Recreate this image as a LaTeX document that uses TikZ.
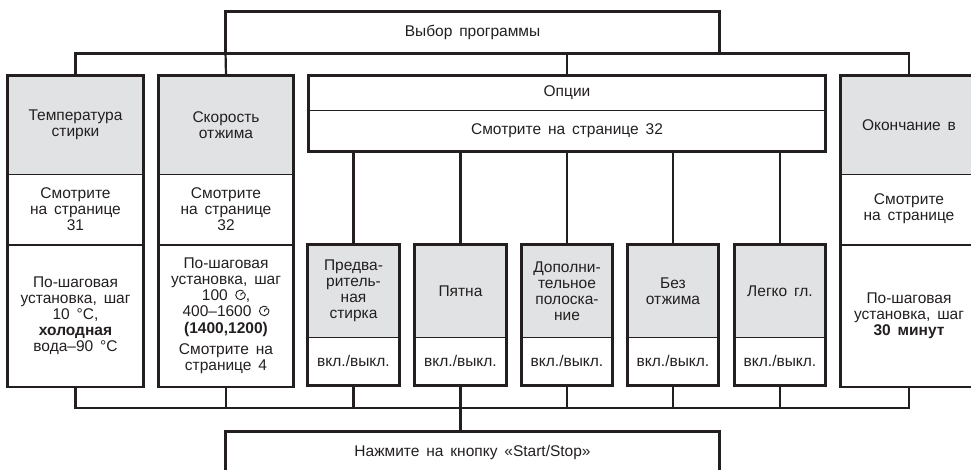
\documentclass[tikz,border=0pt]{standalone}
\usepackage{fontspec}
\setmainfont{Liberation Sans}[WordSpace={1.6}]
\definecolor{ink}{HTML}{231F20}
\definecolor{shade}{HTML}{E1E2E4}
\newcommand\fsz{\fontsize{15.5}{16}\selectfont}
\newsavebox\spinbox
\begin{document}
\savebox\spinbox{\begin{pgfpicture}\pgfsetlinewidth{0.9pt}\pgfsetstrokecolor{ink}\pgfpathmoveto{\pgfpointpolar{50}{4.8pt}}\pgfpatharc{50}{360}{4.8pt}\pgfpatharc{0}{200}{2.3pt}\pgfusepath{stroke}\end{pgfpicture}}%
\begin{tikzpicture}[x=1pt,y=-1pt,
  sec/.style={draw=ink, line width=0.9pt, align=center, inner sep=0pt, font=\fsz, text=ink},
  grey/.style={sec, fill=shade},
  frame/.style={draw=ink, line width=2.2pt},
  conn/.style={draw=ink, line width=2.2pt}]
\useasboundingbox (0,0) rectangle (971,469);
% top selector
\node[sec, minimum width=493, minimum height=41] (sel) at (472.5,32.5) {Выбор программы};
\draw[frame] (sel.north west) rectangle (sel.south east);
% temperature
\node[grey, minimum width=135, minimum height=98] (tA) at (75.5,125) {Температура\\стирки};
\node[sec, minimum width=135, minimum height=70] (tB) at (75.5,209) {Смотрите\\на странице\\31};
\node[sec, minimum width=135, minimum height=141] (tC) at (75.5,316) {По-шаговая\\установка, шаг\\10 °C,\\\textbf{холодная}\\вода–90 °C};
\draw[frame] (tA.north west) rectangle (tC.south east);
% spin
\node[grey, minimum width=134, minimum height=98] (sA) at (226,125) {Скорость\\отжима};
\node[sec, minimum width=134, minimum height=70] (sB) at (226,209) {Смотрите\\на странице\\32};
\node[sec, minimum width=134, minimum height=141] (sC) at (226,316) {По-шаговая\\установка, шаг\\100 \usebox\spinbox,\\400–1600 \usebox\spinbox\\[1pt]\textbf{(1400,1200)}\\[5pt]Смотрите на\\странице 4};
\draw[frame] (sA.north west) rectangle (sC.south east);
% end time
\node[grey, minimum width=136, minimum height=98] (eA) at (909,125) {Окончание в};
\node[sec, minimum width=136, minimum height=70] (eB) at (909,209) {Смотрите\\на странице};
\node[sec, minimum width=136, minimum height=141] (eC) at (909,316) {По-шаговая\\установка, шаг\\\textbf{30 минут}};
\draw[frame] (eA.north west) rectangle (eC.south east);
% options
\node[sec, minimum width=516, minimum height=34] (oA) at (567,93) {Опции};
\node[sec, minimum width=516, minimum height=41] (oB) at (567,130.5) {Смотрите на странице 32};
\draw[frame] (oA.north west) rectangle (oB.south east);
% option sub boxes
\node[grey, minimum width=91, minimum height=92] (p1A) at (353.5,291) {Предва-\\ритель-\\ная\\стирка};
\node[sec, minimum width=91, minimum height=48] (p1B) at (353.5,361) {вкл./выкл.};
\node[grey, minimum width=91, minimum height=92] (p2A) at (460.5,291) {Пятна};
\node[sec, minimum width=91, minimum height=48] (p2B) at (460.5,361) {вкл./выкл.};
\node[grey, minimum width=90, minimum height=92] (p3A) at (567,291) {Дополни-\\тельное\\полоска-\\ние};
\node[sec, minimum width=90, minimum height=48] (p3B) at (567,361) {вкл./выкл.};
\node[grey, minimum width=90, minimum height=92] (p4A) at (673,291) {Без\\отжима};
\node[sec, minimum width=90, minimum height=48] (p4B) at (673,361) {вкл./выкл.};
\node[grey, minimum width=90, minimum height=92] (p5A) at (780,291) {Легко гл.};
\node[sec, minimum width=90, minimum height=48] (p5B) at (780,361) {вкл./выкл.};
\foreach \p in {p1,p2,p3,p4,p5}{
  \draw[frame] (\p A.north west) rectangle (\p B.south east);
  \draw[conn] (\p A.north |- oB.south) -- (\p A.north);
}
% start
\node[sec, minimum width=493, minimum height=40] (start) at (472.5,452) {Нажмите на кнопку «Start/Stop»};
\draw[frame] (start.north west) rectangle (start.south east);
% top bus
\draw[conn] (tA.north) -- (tA.north |- sel.south) -- (eA.north |- sel.south) -- (eA.north);
\draw[conn] (sel.south west) -- (sA.north);
\draw[conn] (oA.north |- sel.south) -- (oA.north);
% bottom bus
\coordinate (bus) at (460.5,408);
\draw[conn] (tC.south) -- (tC.south |- bus) -- (eC.south |- bus) -- (eC.south);
\foreach \b in {sC,p1B,p2B,p3B,p4B,p5B}{
  \draw[conn] (\b.south) -- (\b.south |- bus);
}
\draw[conn] (bus) -- (bus |- start.north);
\end{tikzpicture}
\end{document}
